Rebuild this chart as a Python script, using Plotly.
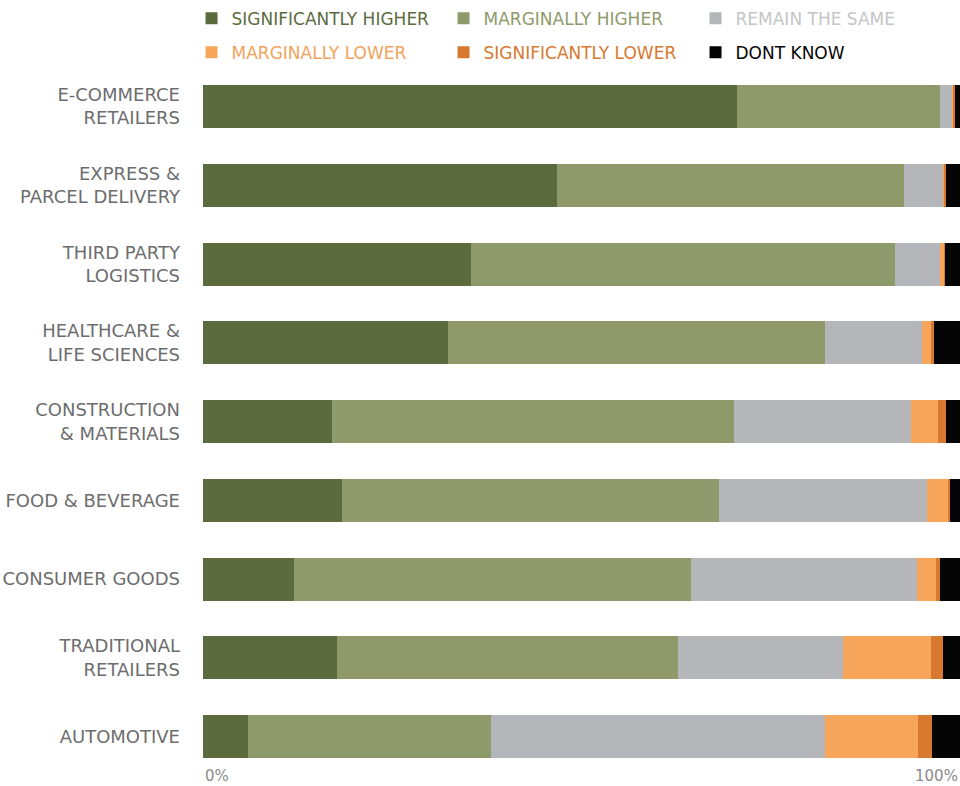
import plotly.graph_objects as go

categories = [
    "E-COMMERCE<br>RETAILERS",
    "EXPRESS &<br>PARCEL DELIVERY",
    "THIRD PARTY<br>LOGISTICS",
    "HEALTHCARE &<br>LIFE SCIENCES",
    "CONSTRUCTION<br>& MATERIALS",
    "FOOD & BEVERAGE",
    "CONSUMER GOODS",
    "TRADITIONAL<br>RETAILERS",
    "AUTOMOTIVE",
]

sig_higher = [70.5, 46.8, 35.4, 32.4, 17.0, 18.4, 12.0, 17.7, 5.9]
marg_higher = [26.8, 45.8, 56.0, 49.8, 53.1, 49.7, 52.4, 45.0, 32.2]
remain_same = [1.6, 5.2, 6.0, 12.8, 23.4, 27.5, 29.9, 21.9, 44.1]
marg_lower = [0.3, 0.2, 0.5, 1.2, 3.6, 2.8, 2.5, 11.6, 12.3]
sig_lower = [0.2, 0.2, 0.1, 0.3, 1.1, 0.3, 0.5, 1.5, 1.8]
dont_know = [0.6, 1.8, 2.0, 3.5, 1.8, 1.3, 2.7, 2.3, 3.7]

series = [
    ("SIGNIFICANTLY HIGHER", sig_higher, "#5b6b3e", "#5b6b3e", "legend"),
    ("MARGINALLY HIGHER", marg_higher, "#8e9a6a", "#8e9a6a", "legend"),
    ("REMAIN THE SAME", remain_same, "#b5b6b9", "#c4c5c7", "legend"),
    ("MARGINALLY LOWER", marg_lower, "#f7a55a", "#f2a35c", "legend2"),
    ("SIGNIFICANTLY LOWER", sig_lower, "#d7792f", "#d7792f", "legend2"),
    ("DONT KNOW", dont_know, "#050505", "#050505", "legend2"),
]

fig = go.Figure()
for name, vals, col, tcol, lg in series:
    fig.add_trace(go.Bar(
        y=categories, x=vals, orientation="h",
        name=f'<span style="color:{tcol}">{name}</span>',
        marker=dict(color=col, line=dict(width=0)),
        legend=lg,
    ))

FONT = "DejaVu Sans"
fig.update_layout(
    barmode="stack",
    bargap=0.454,
    width=960, height=786,
    margin=dict(l=203, r=0, t=0, b=0, autoexpand=False),
    paper_bgcolor="white", plot_bgcolor="white",
    font=dict(family=FONT, size=17, color="#6d6d6d"),
    xaxis=dict(range=[0, 100], showgrid=False, zeroline=False,
               showticklabels=False, fixedrange=True),
    yaxis=dict(autorange="reversed", showgrid=False, zeroline=False,
               domain=[0.0128, 0.9146], ticklabelstandoff=22,
               tickfont=dict(family=FONT, size=18, color="#6d6d6d")),
    legend=dict(orientation="h", xref="container", x=0.1995, xanchor="left",
                yref="container", y=0.999, yanchor="top",
                entrywidth=207, font=dict(family=FONT, size=17),
                bgcolor="rgba(0,0,0,0)", traceorder="normal"),
    legend2=dict(orientation="h", xref="container", x=0.1995, xanchor="left",
                 yref="container", y=0.956, yanchor="top",
                 entrywidth=207, font=dict(family=FONT, size=17),
                 bgcolor="rgba(0,0,0,0)", traceorder="normal"),
    annotations=[
        dict(text="0%", x=0, xref="x", xanchor="left", y=0.0127, yref="paper",
             yanchor="middle", showarrow=False,
             font=dict(family=FONT, size=15, color="#8a8a8a")),
        dict(text="100%", x=100, xref="x", xanchor="right", y=0.0127, yref="paper",
             yanchor="middle", showarrow=False,
             font=dict(family=FONT, size=15, color="#8a8a8a")),
    ],
)

fig.write_html("out.html", config={"displayModeBar": False},
               post_script="document.body.style.margin='0px';")
